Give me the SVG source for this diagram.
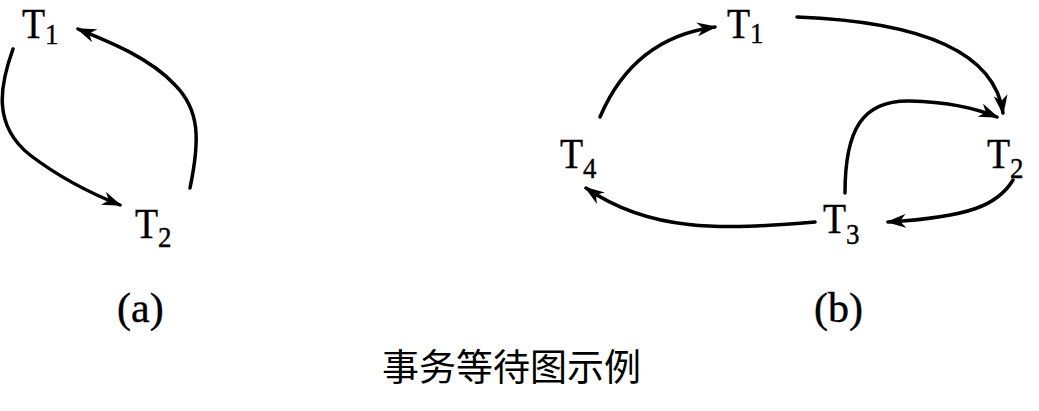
<svg xmlns="http://www.w3.org/2000/svg" width="1039" height="411" viewBox="0 0 1039 411">
<style>
.lbl{font-family:"Liberation Serif","Times New Roman",serif;font-size:42px;fill:#000;stroke:#000;stroke-width:0.4}
.sub{font-size:30px}
.edge{fill:none;stroke:#000;stroke-width:3.5;stroke-linecap:round;marker-end:url(#ah)}
.cap{font-family:"Noto Sans CJK SC","Noto Sans",sans-serif;font-size:37px;fill:#000}
</style>
<defs>
<marker id="ah" viewBox="0 0 20 14" refX="18" refY="7" markerWidth="20" markerHeight="14" markerUnits="userSpaceOnUse" orient="auto">
<path d="M0,0 L20,7 L0,14 L6,7 z" fill="#000"/>
</marker>
</defs>
<g id="connectors">
<path class="edge" d="M13,49 C0,85 -8,125 30,155 C60,178 95,195 120,205"/>
<path class="edge" d="M190,188 C200,140 200,110 175,85 C150,58 110,42 78,29"/>
<path class="edge" d="M600,117 C620,70 655,35 715,27"/>
<path class="edge" d="M797,17 C930,22 995,55 1003,113"/>
<path class="edge" d="M845,193 C845,130 862,100 910,101 C950,102 980,110 997,117"/>
<path class="edge" d="M1013,180 C998,205 970,217 888,222"/>
<path class="edge" d="M815,222 C720,230 650,232 586,188"/>
</g>
<g id="a-T1"><text class="lbl" transform="translate(22,38) scale(0.9,1)">T<tspan class="sub" dy="6">1</tspan></text></g>
<g id="a-T2"><text class="lbl" transform="translate(135,238) scale(0.9,1)">T<tspan class="sub" dy="9">2</tspan></text></g>
<g id="b-T1"><text class="lbl" transform="translate(727,38) scale(0.9,1)">T<tspan class="sub" dy="5">1</tspan></text></g>
<g id="b-T4"><text class="lbl" transform="translate(560,168) scale(0.9,1)">T<tspan class="sub" dy="10">4</tspan></text></g>
<g id="b-T2"><text class="lbl" transform="translate(987,168) scale(0.9,1)">T<tspan class="sub" dy="10">2</tspan></text></g>
<g id="b-T3"><text class="lbl" transform="translate(823,233) scale(0.9,1)">T<tspan class="sub" dy="11">3</tspan></text></g>
<g id="label-a"><text class="lbl" x="117" y="322">(a)</text></g>
<g id="label-b"><text class="lbl" x="814" y="322">(b)</text></g>
<g id="caption"><text class="cap" x="382" y="381">事务等待图示例</text></g>
</svg>
